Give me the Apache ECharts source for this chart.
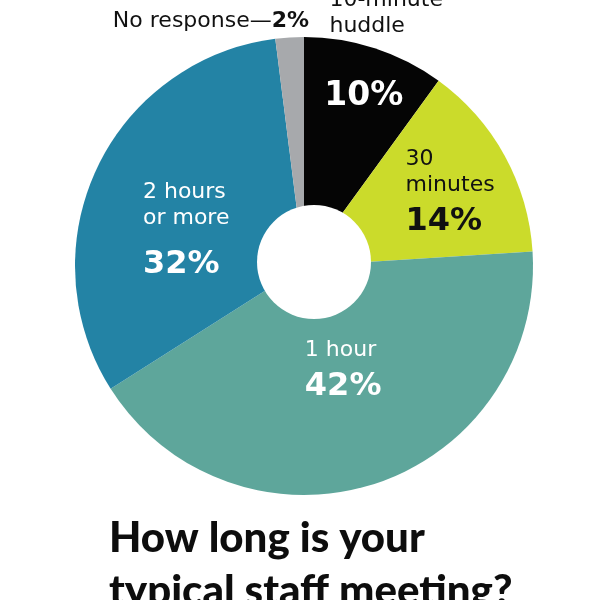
<!DOCTYPE html>
<html>
<head>
<meta charset="utf-8">
<script src="https://cdn.jsdelivr.net/npm/echarts@6/dist/echarts.min.js"></script>
<style>
  html, body { margin: 0; padding: 0; background: #fff; }
  #chart { width: 600px; height: 600px; }
</style>
</head>
<body>
<div id="chart"></div>
<script>
// data
var categories = ['10-minute huddle', '30 minutes', '1 hour', '2 hours or more', 'No response'];
var values = [10, 14, 42, 32, 2];
var nameLines = [['10-minute', 'huddle'], ['30', 'minutes'], ['1 hour'], ['2 hours', 'or more'], ['No response']];
var pctLabels = ['10%', '14%', '42%', '32%', '2%'];

// style
var colors = ['#050505', '#cbdb2b', '#5ea69b', '#2383a5', '#a7a9ac'];
var center = [304, 266];
var radius = 229;
var fontName = '"DejaVu Sans", "Noto Sans", sans-serif';

// where each label block sits: radius and angle shift from the slice middle
var innerPos = [[180, 1.4], [162, 3.2], [115, -1.9], [121, -12], null];
var outerPos = [[266, 0], null, null, null, [262, -17.2]];

var total = 0;
for (var i = 0; i < values.length; i++) total += values[i];

function midAngle(idx) {
	var cum = 0;
	for (var i = 0; i < idx; i++) cum += values[i];
	return (cum + values[idx] / 2) / total * 360;
}

function anchor(idx, pos) {
	var a = (midAngle(idx) + pos[1]) * Math.PI / 180;
	return [center[0] + pos[0] * Math.sin(a), center[1] - pos[0] * Math.cos(a)];
}

function layoutFor(posList) {
	return function(params) {
		var pos = posList[params.dataIndex];
		if (!pos) return {};
		var p = anchor(params.dataIndex, pos);
		return {
			x: p[0] - params.labelRect.width / 2,
			y: p[1],
			align: 'left',
			verticalAlign: 'middle'
		};
	};
}

// inside: names in light weight, percent bold
function innerText(idx) {
	var dark = colors[idx] == '#cbdb2b';
	var n = dark ? 'nb' : 'nw';
	var p = dark ? 'pb' : 'pw';
	if (idx == 3) p = 'pw2';
	if (idx == 0) return '{big|' + pctLabels[idx] + '}';
	var arr = [];
	for (var i = 0; i < nameLines[idx].length; i++) arr.push('{' + n + '|' + nameLines[idx][i] + '}');
	arr.push('{' + p + '|' + pctLabels[idx] + '}');
	return arr.join('\n');
}

function outerText(idx) {
	if (idx == 0) return '{o|' + nameLines[0][0] + '}\n{o|' + nameLines[0][1] + '}';
	if (idx == 4) return '{o|' + nameLines[4][0] + '—}{ob|' + pctLabels[4] + '}';
	return '';
}

var innerData = [];
var outerData = [];
for (var i = 0; i < categories.length; i++) {
	innerData.push({
		name: categories[i],
		value: values[i],
		itemStyle: { color: colors[i] },
		label: { show: innerPos[i] != null }
	});
	outerData.push({
		name: categories[i],
		value: values[i],
		label: { show: outerPos[i] != null }
	});
}

var rich = {
	nw: { color: '#fff', fontFamily: fontName, fontSize: 22, lineHeight: 26 },
	nb: { color: '#111', fontFamily: fontName, fontSize: 22, lineHeight: 26 },
	pw: { color: '#fff', fontFamily: fontName, fontWeight: 'bold', fontSize: 32, lineHeight: 48 },
	pw2: { color: '#fff', fontFamily: fontName, fontWeight: 'bold', fontSize: 32, lineHeight: 66 },
	pb: { color: '#111', fontFamily: fontName, fontWeight: 'bold', fontSize: 32, lineHeight: 48 },
	big: { color: '#fff', fontFamily: fontName, fontWeight: 'bold', fontSize: 33, lineHeight: 40 },
	o: { color: '#111', fontFamily: fontName, fontSize: 22, lineHeight: 26 },
	ob: { color: '#111', fontFamily: fontName, fontWeight: 'bold', fontSize: 22, lineHeight: 26 }
};

var option = {
	animation: false,
	backgroundColor: '#fff',
	title: {
		text: 'How long is your\ntypical staff meeting?',
		left: 104,
		top: 507,
		textStyle: {
			fontFamily: 'Lato, "Noto Sans", sans-serif',
			fontWeight: 900,
			fontSize: 42,
			lineHeight: 53,
			color: '#0d0d0d'
		}
	},
	graphic: [{
		type: 'circle',
		z: 100,
		shape: { cx: 314, cy: 262, r: 57 },
		style: { fill: '#fff' },
		silent: true
	}],
	series: [{
		name: 'meeting',
		type: 'pie',
		center: center,
		radius: [0, radius],
		startAngle: 90,
		clockwise: true,
		avoidLabelOverlap: false,
		silent: true,
		itemStyle: { borderWidth: 0 },
		label: {
			position: 'inside',
			formatter: function(p) { return innerText(p.dataIndex); },
			rich: rich
		},
		labelLine: { show: false },
		labelLayout: layoutFor(innerPos),
		data: innerData
	}, {
		name: 'names',
		type: 'pie',
		center: center,
		radius: [0, radius],
		startAngle: 90,
		clockwise: true,
		avoidLabelOverlap: false,
		silent: true,
		itemStyle: { color: 'rgba(0,0,0,0)', borderWidth: 0 },
		label: {
			position: 'inside',
			formatter: function(p) { return outerText(p.dataIndex); },
			rich: rich
		},
		labelLine: { show: false },
		labelLayout: layoutFor(outerPos),
		data: outerData
	}]
};

var myChart = echarts.init(document.getElementById('chart'));
myChart.setOption(option);
</script>
</body>
</html>
